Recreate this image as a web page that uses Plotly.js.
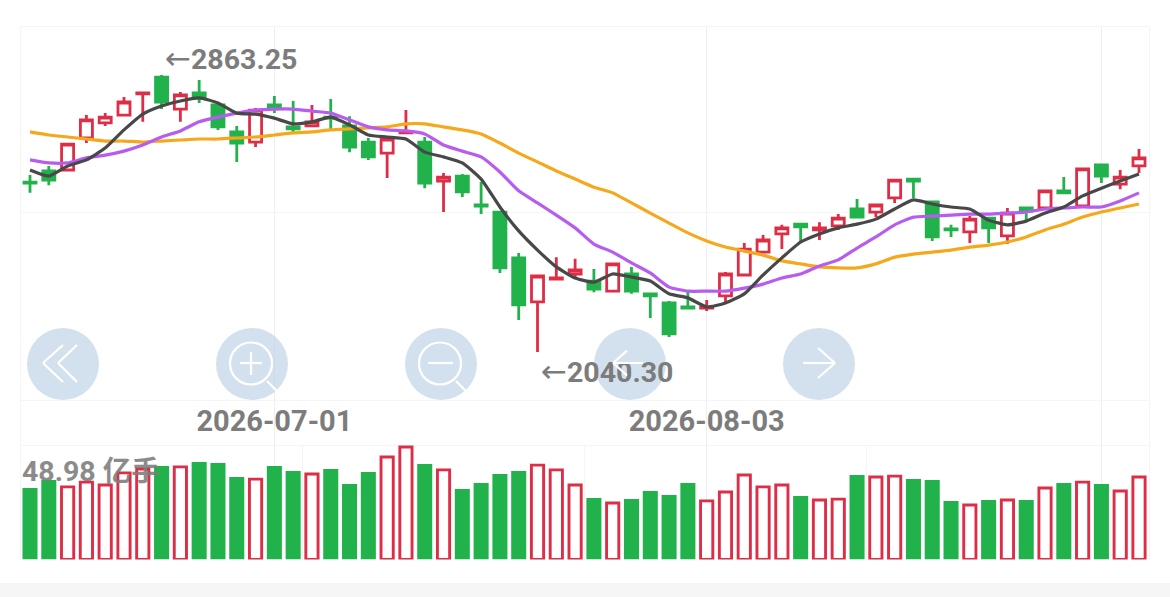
<!DOCTYPE html>
<html>
<head>
<meta charset="utf-8">
<script src="https://cdn.plot.ly/plotly-3.0.1.min.js"></script>
<style>html,body{margin:0;padding:0;background:#fff;overflow:hidden}#chart{width:1170px;height:597px}</style>
</head>
<body>
<div id="chart"></div>
<script>
const dates = ['2026-06-12','2026-06-15','2026-06-16','2026-06-17','2026-06-18','2026-06-19','2026-06-22','2026-06-23','2026-06-24','2026-06-25','2026-06-26','2026-06-29','2026-06-30','2026-07-01','2026-07-02','2026-07-03','2026-07-06','2026-07-07','2026-07-08','2026-07-09','2026-07-10','2026-07-13','2026-07-14','2026-07-15','2026-07-16','2026-07-17','2026-07-20','2026-07-21','2026-07-22','2026-07-23','2026-07-24','2026-07-27','2026-07-28','2026-07-29','2026-07-30','2026-07-31','2026-08-03','2026-08-04','2026-08-05','2026-08-06','2026-08-07','2026-08-10','2026-08-11','2026-08-12','2026-08-13','2026-08-14','2026-08-17','2026-08-18','2026-08-19','2026-08-20','2026-08-21','2026-08-24','2026-08-25','2026-08-26','2026-08-27','2026-08-28','2026-08-31','2026-09-01','2026-09-02','2026-09-03'];
const open = [2545,2578,2581,2676,2721,2744,2807,2857,2762,2810,2774,2694,2664,2774,2709,2712,2738,2712,2664,2631,2691,2664,2548,2563,2477,2456,2320,2189,2257,2272,2251,2221,2272,2213,2186,2174,2171,2207,2269,2337,2391,2420,2403,2415,2465,2456,2498,2554,2486,2406,2397,2438,2385,2468,2468,2519,2474,2596,2539,2593];
const close = [2542,2551,2658,2730,2738,2783,2810,2783,2804,2795,2709,2661,2759,2765,2703,2724,2735,2649,2620,2673,2694,2542,2560,2516,2474,2290,2180,2266,2260,2284,2227,2302,2221,2207,2094,2171,2174,2272,2346,2373,2409,2412,2409,2438,2441,2477,2551,2548,2382,2403,2435,2409,2453,2459,2519,2513,2584,2563,2560,2617];
const high = [2566,2593,2658,2744,2750,2798,2810,2863.25,2813,2848,2777,2712,2765,2801,2786,2774,2792,2741,2676,2676,2759,2679,2572,2569,2545,2456,2334,2266,2322,2317,2287,2302,2293,2213,2192,2224,2195,2278,2364,2388,2418,2420,2426,2450,2495,2477,2551,2554,2486,2418,2444,2438,2468,2468,2519,2560,2584,2596,2581,2643];
const low = [2513,2536,2581,2661,2712,2744,2724,2762,2724,2780,2700,2605,2649,2750,2694,2712,2703,2634,2611,2557,2691,2527,2456,2501,2450,2275,2135,2040.30,2254,2257,2218,2221,2213,2141,2085,2168,2162,2189,2269,2337,2346,2370,2373,2403,2441,2441,2483,2498,2370,2382,2364,2364,2361,2432,2468,2513,2474,2542,2524,2572];
const ma5 = [2581,2563,2593,2611,2646,2700,2747,2771,2786,2795,2780,2750,2747,2735,2718,2724,2738,2715,2685,2679,2673,2634,2620,2602,2554,2471,2400,2343,2293,2260,2248,2272,2263,2251,2213,2201,2174,2186,2213,2269,2320,2367,2391,2409,2420,2435,2465,2492,2480,2471,2465,2432,2418,2429,2453,2471,2504,2527,2548,2569];
const ma10 = [2611,2602,2602,2617,2625,2637,2655,2679,2697,2724,2738,2750,2759,2762,2762,2756,2750,2730,2709,2700,2697,2688,2655,2637,2620,2575,2519,2483,2447,2409,2361,2337,2305,2275,2233,2221,2221,2221,2230,2242,2260,2272,2296,2314,2349,2382,2418,2441,2444,2447,2450,2450,2453,2456,2465,2468,2471,2471,2489,2513];
const ma20 = [2694,2685,2679,2673,2667,2667,2664,2667,2670,2673,2673,2676,2679,2685,2691,2694,2700,2703,2706,2709,2718,2718,2709,2700,2688,2661,2631,2605,2578,2554,2530,2513,2483,2453,2423,2394,2370,2352,2340,2328,2311,2302,2293,2290,2290,2302,2322,2331,2337,2343,2352,2358,2367,2382,2403,2420,2441,2456,2468,2480];
const volume = [31.1,34.6,31.6,33.7,32.4,37.7,39.4,40.7,40.3,42.4,42.0,35.9,35.0,40.7,38.5,37.2,39.4,32.9,38.1,44.6,48.98,41.6,39.0,30.7,33.3,37.2,38.5,41.1,39.0,32.4,26.8,24.6,26.3,29.8,28.1,33.3,25.5,29.4,36.8,31.6,32.4,27.6,25.9,26.3,36.8,35.9,36.3,35.0,34.6,25.5,23.7,25.9,25.9,25.9,31.1,33.3,33.7,32.9,29.8,35.9];
const dateTickIndex = [13,36,57];
const dateTickText = [dates[13],dates[36],''];
const volumeLabel = '48.98 亿手';
const highLabel = '2863.25';
const lowLabel = '2040.30';

const RED='#de2d46', GREEN='#21b24c', GRAY='#7c7c7c';
const W=1170,H=597;
const px=x=>x/W, py=y=>1-y/H;
const idx=dates.map((_,i)=>i);
const up=idx.map(i=>close[i]>=open[i]);
const FONT='Roboto, "Noto Sans CJK SC", sans-serif';

const traces=[
 {type:'candlestick',x:idx,open,high,low,close,xaxis:'x',yaxis:'y',whiskerwidth:0,showlegend:false,hoverinfo:'skip',
  increasing:{line:{color:RED,width:2.8},fillcolor:'#ffffff'},
  decreasing:{line:{color:GREEN,width:2.8},fillcolor:GREEN}},
 {type:'scatter',mode:'lines',x:idx,y:ma20,line:{color:'#f6a81c',width:3.2,shape:'spline',smoothing:0.5},showlegend:false,hoverinfo:'skip'},
 {type:'scatter',mode:'lines',x:idx,y:ma10,line:{color:'#b85cf0',width:3.2,shape:'spline',smoothing:0.5},showlegend:false,hoverinfo:'skip'},
 {type:'scatter',mode:'lines',x:idx,y:ma5,line:{color:'#484848',width:3.2,shape:'spline',smoothing:0.5},showlegend:false,hoverinfo:'skip'},
 {type:'bar',x:idx,y:volume,xaxis:'x2',yaxis:'y2',width:idx.map(i=>up[i]?0.65:0.8),showlegend:false,hoverinfo:'skip',
  marker:{color:idx.map(i=>up[i]?'#ffffff':GREEN),line:{color:idx.map(i=>up[i]?RED:GREEN),width:idx.map(i=>up[i]?2.9:0)}}}
];

const seg=(x0,y0,x1,y1)=>({type:'line',xref:'paper',yref:'paper',x0:px(x0),y0:py(y0),x1:px(x1),y1:py(y1),layer:'above',line:{color:'#ffffff',width:2.2}});
const poly=pts=>pts.slice(1).map((p,k)=>seg(pts[k][0],pts[k][1],p[0],p[1]));
const circ=(cx,cy,r,extra)=>Object.assign({type:'circle',xref:'paper',yref:'paper',x0:px(cx-r),x1:px(cx+r),y0:py(cy+r),y1:py(cy-r),layer:'above'},extra);
const btn=cx=>circ(cx,364,36,{fillcolor:'rgba(186,208,229,0.64)',line:{width:0}});
const lens=cx=>circ(cx,363.5,21,{line:{color:'#ffffff',width:2.2},fillcolor:'rgba(0,0,0,0)'});
const shapes=[
 {type:'rect',xref:'paper',yref:'paper',x0:0,x1:1,y0:0,y1:py(583),layer:'below',fillcolor:'#f6f6f6',line:{width:0}},
 btn(63),btn(252),btn(441),btn(630),btn(819),
 ...poly([[77,345],[58,363],[77,382]]),...poly([[63,345],[43,363],[63,382]]),
 lens(251),seg(240,363,262,363),seg(251,352,251,375),seg(267,381,277,391),
 lens(440),seg(428,363,453,363),seg(456,381,466,391),
 ...poly([[818,348],[835,363],[818,378]]),seg(803,363,835,363)
];

const note=(x,y,yshift,label)=>({x,y,xref:'x',yref:'y',yshift,xshift:1.5,xanchor:'left',yanchor:'middle',showarrow:false,
 text:'<span style="font-family:\'DejaVu Sans\';font-size:31px">←</span><b>'+label+'</b>',font:{family:FONT,size:28.5,color:GRAY}});
const whiteStroke=(x,y,dx,dy)=>({xref:'paper',yref:'paper',x:px(x),y:py(y),ax:dx,ay:dy,text:' ',showarrow:true,arrowhead:0,arrowwidth:2.2,arrowcolor:'#ffffff',standoff:0,startstandoff:0});

const gridMain='#edeff1', gridSoft='#f5f5f5';
const layout={
 width:W,height:H,margin:{l:0,r:0,t:0,b:0,pad:0},paper_bgcolor:'rgba(0,0,0,0)',plot_bgcolor:'rgba(0,0,0,0)',
 showlegend:false,hovermode:false,dragmode:false,boxgap:0.36,boxgroupgap:0,
 xaxis:{domain:[px(21),px(1149)],range:[-0.479,59.532],anchor:'y',rangeslider:{visible:false},tickmode:'array',tickvals:dateTickIndex,ticktext:dateTickText,
  ticklabelstandoff:-50,ticks:'',showgrid:true,gridcolor:gridMain,gridwidth:1.5,showline:true,mirror:true,linecolor:gridSoft,linewidth:1,zeroline:false,
  tickfont:{family:FONT,size:29,color:GRAY,weight:700}},
 yaxis:{domain:[py(445),py(27)],range:[1763.9,3005.8],anchor:'x',tickmode:'array',tickvals:[1897.6,2453.2],showticklabels:false,ticks:'',showgrid:true,gridcolor:gridSoft,gridwidth:1,showline:true,mirror:true,linecolor:gridSoft,linewidth:1,zeroline:false},
 xaxis2:{domain:[px(21),px(1149)],range:[-0.479,59.532],anchor:'y2',tickmode:'array',tickvals:dateTickIndex,showticklabels:false,ticks:'',showgrid:true,gridcolor:gridMain,gridwidth:1.5,zeroline:false,showline:false,
  minor:{tickmode:'array',tickvals:[14.5,29.5,44.5],showgrid:true,gridcolor:gridSoft,gridwidth:1,ticks:''}},
 yaxis2:{domain:[py(559.5),py(445)],range:[0,49.84],anchor:'x2',showticklabels:false,ticks:'',showgrid:false,zeroline:false,showline:true,mirror:true,linecolor:gridSoft,linewidth:1},
 shapes,
 annotations:[
  note(7,high[7],17,highLabel),
  note(27,low[27],-19,lowLabel),
  {xref:'paper',yref:'paper',x:px(20),y:py(471),xanchor:'left',yanchor:'middle',showarrow:false,text:'<b>'+volumeLabel+'</b>',opacity:0.88,font:{family:FONT,size:28.5,color:GRAY}},
  whiteStroke(613,363,33,0),whiteStroke(613,363,17,-15),whiteStroke(613,363,17,15)
 ]
};
Plotly.newPlot('chart',traces,layout,{staticPlot:true,displayModeBar:false});
</script>
</body>
</html>
